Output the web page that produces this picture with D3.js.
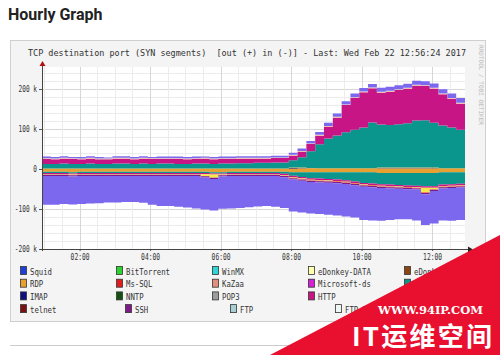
<!DOCTYPE html>
<html><head><meta charset="utf-8">
<script src="https://cdn.jsdelivr.net/npm/d3@7"></script>
<style>body{margin:0;background:#fff;}svg{display:block}</style>
</head><body>
<svg id="c" width="500" height="355"></svg>
<script>
// ---- data (values in thousands of SYN segments, 15-minute samples from 00:56) ----
const startTime = new Date(2017, 1, 22, 0, 56);
const endTime = new Date(2017, 1, 22, 12, 56);
const sampleMinutes = 15;

const imapOut = [0,0,0,0,0,0,0,0,0,0,0,0,0,0,0,0,0,0,0,0,0,0,0,0,0,0,0,0,2,1.5,0.5,0,0,0,0,0,0,0,1,1.5,1.5,1,1.5,1.5,1,0,0,0,0];
const rdpOut = [1.5,1.5,1.5,1.5,1.5,1.5,1.5,1.5,1.5,1.5,1.5,1.5,1.5,1.5,1.5,1.5,1.5,1.5,1.5,1.5,1.5,1.5,1.5,1.5,1.5,1.5,1.5,1.5,2,2,2,2,2,2,2,2,2,2,2.5,2.5,2.5,2.5,2.5,2.5,2.5,2,2,2,2];
const netbiosOut = [11,11,12,11,11,12,11,11,12,12,11,12,11,12,12,11,11,12,12,11,12,12,13,13,14,14,15,15,18,26,42,60,74,82,90,96,102,114,108,106,108,111,117,118,112,107,102,96,91];
const httpOut = [13,12,13,13,12,13,12,12,13,13,12,13,13,12,12,13,12,12,13,12,12,12,12,12,11,11,11,11,12,14,18,22,30,45,68,80,88,86,80,84,86,87,88,86,86,78,72,66,62];
const edkOut = [1.5,1.5,1.5,1.5,1.5,1.5,1.5,1.5,1.5,1.5,1.5,1.5,1.5,1.5,1.5,1.5,1.5,1.5,1.5,1.5,1.5,1.5,1.5,1.5,1.5,1.5,1.5,1.5,1.5,1.5,1.5,1.5,1.5,1.5,1.5,1.5,1.5,1.5,1.5,1.5,1.5,1.5,1.5,1.5,1.5,1.5,1.5,1.5,1.5];
const httpsOut = [4,4,4,3,4,4,4,3,4,4,4,4,3,4,4,4,4,4,3,4,4,4,4,4,4,4,4,4,5,6,6,7,8,8,8,9,9,9,10,10,10,10,10,10,11,11,11,12,12];

const rdpIn = [7,7,7,8,7,7,7,7,7,7,7,7,7,7,7,7,7,7,7,8,8,7,7,7,7,7,7,7,8,8,8,8,8,8,8,8,8,8,10,10,10,10,10,10,10,8,8,8,8];
const netbiosIn = [3,3,3,3,3,3,3,3,3,3,3,3,3,3,3,3,3,3,3,3,3,3,3,3,3,3,3,5,9,12,15,16,17,18,20,23,27,28,28,29,30,31,32,33,33,31,30,29,28];
const httpIn = [3,3,3,3,3,3,3,3,3,3,3,3,3,3,3,3,3,3,3,3,3,3,3,3,3,3,3,4,4,4,4,4,4,4,4,4,4,4,4,4,4,4,4,4,4,4,4,4,4];
const edkIn = [1.5,1.5,1.5,1.5,1.5,1.5,1.5,1.5,1.5,1.5,1.5,1.5,1.5,1.5,1.5,1.5,1.5,1.5,5,8,1.5,1.5,1.5,1.5,1.5,1.5,1.5,1.5,1.5,1.5,1.5,1.5,1.5,1.5,1.5,1.5,1.5,1.5,1.5,1.5,1.5,1.5,1.5,12,4,1.5,1.5,1.5,1.5];
const mssqlIn = [0,0,0,0,0,0,0,0,0,0,0,0,0,0,0,0,0,0,0,0,0,0,0,0,0,0,0,0,1,1,1,1,1,1,1,1,1,1,1,1,1,1,1,1,1,1,1,1,1];
const sshIn = [3,3,3,3,3,3,3,3,3,3,3,3,3,3,3,3,3,3,3,3,3,3,3,3,3,3,3,3,3,3,3,3,3,3,3,3,3,3,3,3,3,3,3,3,3,3,3,3,3];
const httpsIn = [72,72,70,70,70,69,68,66,66,65,65,67,72,75,75,77,79,81,80,79,81,81,80,78,76,75,77,77,80,79,79,79,80,81,81,81,83,83,82,79,76,75,77,77,81,80,82,81,82];

const yTickValues = [-200000,-100000,0,100000,200000];
const chartTitle = "TCP destination port (SYN segments)  [out (+) in (-)] - Last: Wed Feb 22 12:56:24 2017";

const legendNames = ["Squid","BitTorrent","WinMX","eDonkey-DATA","eDonkey",
                     "RDP","Ms-SQL","KaZaa","Microsoft-ds","NetBIOS",
                     "IMAP","NNTP","POP3","HTTP","HTTPS",
                     "telnet","SSH","FTP","FTP-DATA"];
const legendColors = ["#1f3fd8","#2ed22e","#2dd4d8","#ffffb0","#8b4513",
                      "#e8a030","#e01c1c","#e0907c","#d61fd6","#0a968c",
                      "#101080","#145214","#9c9c9c","#c71585","#7b68ee",
                      "#7a1010","#7e1a8a","#a8d0d4","#eef6f6"];

// ---- series definitions (stack order) ----
const series = [
  {key:"imapOut", values:imapOut, sign:1, color:"#101080"},
  {key:"rdpOut", values:rdpOut, sign:1, color:"#e8a030"},
  {key:"netbiosOut", values:netbiosOut, sign:1, color:"#0a968c"},
  {key:"httpOut", values:httpOut, sign:1, color:"#c71585"},
  {key:"edkOut", values:edkOut, sign:1, color:"#fff4a8"},
  {key:"httpsOut", values:httpsOut, sign:1, color:"#7b68ee"},
  {key:"rdpIn", values:rdpIn, sign:-1, color:"#e8a030"},
  {key:"netbiosIn", values:netbiosIn, sign:-1, color:"#0a968c"},
  {key:"httpIn", values:httpIn, sign:-1, color:"#c71585"},
  {key:"edkIn", values:edkIn, sign:-1, color:"#f7e84a"},
  {key:"mssqlIn", values:mssqlIn, sign:-1, color:"#e01c1c"},
  {key:"sshIn", values:sshIn, sign:-1, color:"#7e1a8a"},
  {key:"httpsIn", values:httpsIn, sign:-1, color:"#7b68ee"}
];

const n = imapOut.length;
const rows = d3.range(n).map(i => {
  const r = {time: d3.timeMinute.offset(startTime, i*sampleMinutes)};
  series.forEach(s => r[s.key] = s.sign * s.values[i] * 1000);
  return r;
});

const svg = d3.select("#c");
const mono = "'DejaVu Sans Mono', 'Liberation Mono', monospace";

// page title
svg.append("text").attr("x",8).attr("y",20)
  .attr("font-family","Roboto, 'Open Sans', sans-serif").attr("font-weight",700)
  .attr("font-size",16).attr("fill","#222").text("Hourly Graph");

// rrd image box
svg.append("rect").attr("x",10.5).attr("y",40.5).attr("width",475).attr("height",281)
  .attr("fill","#f4f4f4").attr("stroke","#cfcfcf");
svg.append("line").attr("x1",10).attr("x2",500).attr("y1",345.5).attr("y2",345.5)
  .attr("stroke","#cccccc");

svg.append("text").attr("x",28).attr("y",55.5).attr("font-family",mono).attr("font-size",8.6)
  .attr("fill","#333").attr("textLength",438).attr("lengthAdjust","spacingAndGlyphs")
  .attr("xml:space","preserve").style("white-space","pre").text(chartTitle);

svg.append("text").attr("transform","translate(479,45) rotate(90)")
  .attr("font-family",mono).attr("font-size",6).attr("fill","#b8b8b8")
  .attr("textLength",80).attr("lengthAdjust","spacingAndGlyphs")
  .text("RRDTOOL / TOBI OETIKER");

// plot
const L = 42, R = 465, T = 67, B = 249;
const x = d3.scaleTime().domain([startTime, endTime]).range([L, R]);
const y = d3.scaleLinear().domain([-200000, 255000]).range([B, T]);

svg.append("rect").attr("x",L).attr("y",T).attr("width",R-L).attr("height",B-T).attr("fill","#fff");

const grid = svg.append("g");
d3.range(-200000, 255000, 20000).forEach(v => {
  grid.append("line").attr("x1",L).attr("x2",R).attr("y1",Math.round(y(v))+0.5).attr("y2",Math.round(y(v))+0.5)
    .attr("stroke", v % 100000 === 0 ? "#d6d6d6" : "#ececec");
});
x.ticks(d3.timeMinute.every(30)).forEach(t => {
  const major = t.getMinutes() === 0 && t.getHours() % 2 === 0;
  grid.append("line").attr("x1",Math.round(x(t))+0.5).attr("x2",Math.round(x(t))+0.5).attr("y1",T).attr("y2",B)
    .attr("stroke", major ? "#d6d6d6" : "#ececec");
});

const stack = d3.stack().keys(series.map(s=>s.key)).offset(d3.stackOffsetDiverging);
const layers = stack(rows);
const area = d3.area().curve(d3.curveStepAfter)
  .x(d => x(d.data.time)).y0(d => y(d[0])).y1(d => y(d[1]));
svg.append("defs").append("clipPath").attr("id","pc").append("rect")
  .attr("x",L).attr("y",T).attr("width",R-L).attr("height",B-T);
svg.append("g").attr("clip-path","url(#pc)").selectAll("path").data(layers).join("path")
  .attr("d", area).attr("fill", (d,i) => series[i].color);

// axes
const yAxis = svg.append("g").attr("transform",`translate(${L},0)`)
  .call(d3.axisLeft(y).tickValues(yTickValues).tickSize(3).tickPadding(2)
    .tickFormat(d => d === 0 ? "0" : (d/1000) + " k"));
yAxis.select(".domain").remove();
yAxis.selectAll("line").attr("stroke","#555");
yAxis.selectAll("text").attr("font-family",mono).attr("font-size",8.5).attr("fill","#333")
  .each(function(){ const s=this.textContent; d3.select(this).attr("textLength", s.length*3.7).attr("lengthAdjust","spacingAndGlyphs"); });

const xAxis = svg.append("g").attr("transform",`translate(0,${B})`)
  .call(d3.axisBottom(x).ticks(d3.timeHour.every(2)).tickSize(2).tickPadding(3)
    .tickFormat(d3.timeFormat("%H:%M")));
xAxis.select(".domain").remove();
xAxis.selectAll("line").attr("stroke","#555");
xAxis.selectAll("text").attr("font-family",mono).attr("font-size",8.5).attr("fill","#333")
  .attr("textLength",19).attr("lengthAdjust","spacingAndGlyphs");

svg.append("line").attr("x1",L+0.5).attr("x2",L+0.5).attr("y1",T-2).attr("y2",B+2).attr("stroke","#444");
svg.append("line").attr("x1",L-2).attr("x2",R+4).attr("y1",B+0.5).attr("y2",B+0.5).attr("stroke","#444");
svg.append("path").attr("d",`M${L-2.5},${T-1}L${L+3.5},${T-1}L${L+0.5},${T-6}Z`).attr("fill","#b01010");
svg.append("path").attr("d",`M${R+3},${B-2.5}L${R+3},${B+3.5}L${R+8},${B+0.5}Z`).attr("fill","#222");

// legend
const lg = svg.append("g");
legendNames.forEach((name, i) => {
  const row = Math.floor(i/5), col = i%5;
  const lx = row < 3 ? 20 + col*96 : 20 + col*105;
  const ly = 271 + row*12.7;
  lg.append("rect").attr("x",lx+0.5).attr("y",ly-4.5).attr("width",6).attr("height",8)
    .attr("fill",legendColors[i]).attr("stroke","#333").attr("stroke-width",0.8);
  lg.append("text").attr("x",lx+10).attr("y",ly+3.5).attr("font-family",mono).attr("font-size",9.5)
    .attr("fill","#333").attr("textLength",name.length*4.4).attr("lengthAdjust","spacingAndGlyphs").text(name);
});

// watermark
svg.append("path").attr("d","M270,355L500,235L500,355Z").attr("fill","#e8102e");
svg.append("text").attr("x",378).attr("y",314).attr("font-family","'DejaVu Serif', 'Liberation Serif', serif")
  .attr("font-weight",700).attr("font-size",11).attr("fill","#fff")
  .attr("textLength",105).attr("lengthAdjust","spacingAndGlyphs").text("WWW.94IP.COM");
svg.append("text").attr("x",352).attr("y",346).attr("font-family","'Noto Sans CJK SC', sans-serif")
  .attr("font-weight",700).attr("font-size",26).attr("fill","#fff")
  .attr("textLength",140).attr("lengthAdjust","spacing").text("IT运维空间");
</script>
</body></html>
